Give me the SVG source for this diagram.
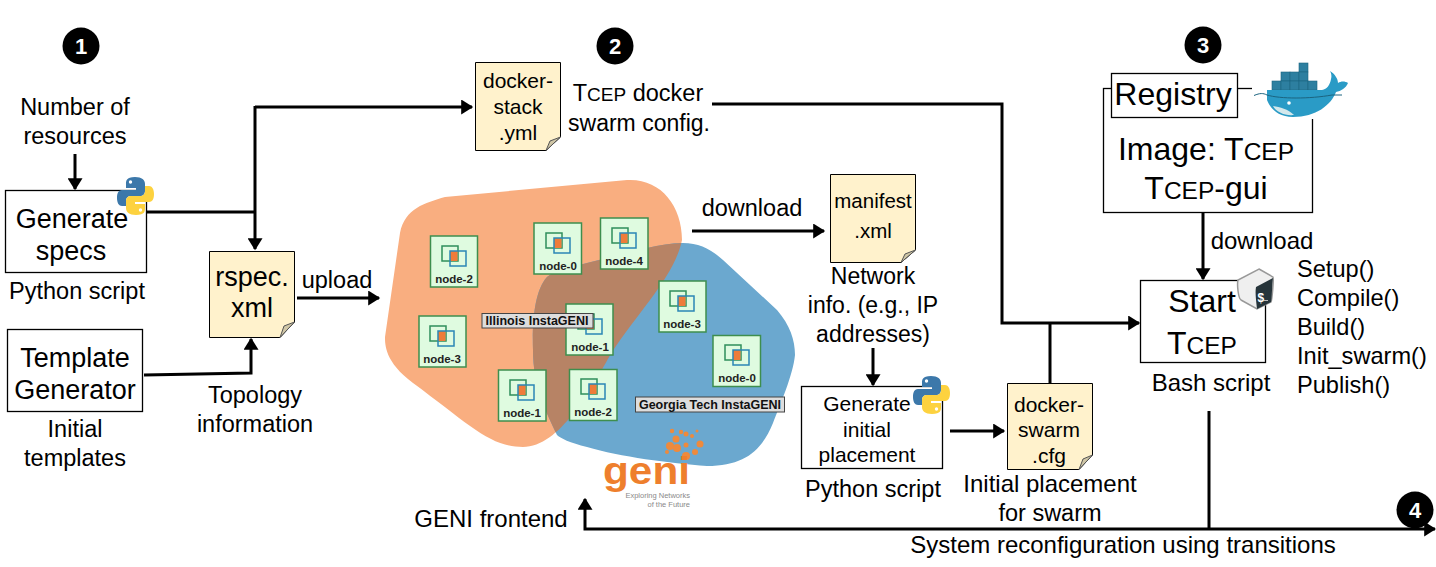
<svg xmlns="http://www.w3.org/2000/svg" width="1436" height="567" viewBox="0 0 1436 567">
<style>
text{font-family:"Liberation Sans",Arial,sans-serif;fill:#000}
.t{font-size:23.500px;text-anchor:middle}
.b{font-size:27px;text-anchor:middle}
.box{fill:#fff;stroke:#000;stroke-width:1.300}
.doc{fill:#FFF2CC;stroke:#000;stroke-width:1}
.fold{fill:#CFC6A6;stroke:#555;stroke-width:1}
.c{fill:none;stroke:#000;stroke-width:3}
.num{fill:#fff;font-size:22px;font-weight:bold;text-anchor:middle}
.nr{fill:#DFFBE0;stroke:#3E8E4E;stroke-width:1.500}
.nl{font-size:11.500px;font-weight:bold;text-anchor:middle;fill:#222}
.lab{fill:#DDD;stroke:#444;stroke-width:1}
.ll{font-size:12.500px;font-weight:bold;text-anchor:middle;fill:#111}
.dc{fill:#2D7FA0;stroke:#1B6480;stroke-width:0.600}
</style>
<defs>
<marker id="ah" markerWidth="5" markerHeight="5" refX="3.600" refY="2.500" orient="auto" markerUnits="strokeWidth"><path d="M0,0L4,2.500L0,5Z" fill="#000"/></marker>
<marker id="ahs" markerWidth="5" markerHeight="5" refX="0.400" refY="2.500" orient="auto" markerUnits="strokeWidth"><path d="M4,0L0,2.500L4,5Z" fill="#000"/></marker>
<g id="ico">
<rect x="-12" y="-12" width="16" height="15" fill="none" stroke="#2F8F5B" stroke-width="1.500"/>
<rect x="-4" y="-7" width="7.500" height="10" fill="#EE7C3A"/>
<rect x="-4" y="-7" width="16" height="15" fill="none" stroke="#2B86B5" stroke-width="1.500"/>
</g>
<g id="py">
<path d="M17,0C8,0 8,4 8,7V11H18V13H4C0,13 -1,17 -1,21C-1,26 1,29 4,29H8V24C8,21 10,19 13,19H22C25,19 27,17 27,14V7C27,3 24,0 17,0Z" fill="#3C78AA"/>
<path d="M18,38C27,38 27,34 27,31V27H17V25H31C35,25 36,21 36,17C36,12 34,9 31,9H27V14C27,17 25,19 22,19H13C10,19 8,21 8,24V31C8,35 11,38 18,38Z" fill="#FDD23F"/>
<circle cx="12.500" cy="5" r="1.700" fill="#fff"/><circle cx="22.500" cy="33" r="1.700" fill="#fff"/>
</g>
<clipPath id="oc"><path d="M400,233C405,208 425,203 445,197L627,180C660,178 682,205 682,240C675,275 640,310 612,352C590,390 560,447 523,447C490,447 470,425 413,383C385,362 385,345 385,337Z"/></clipPath>
</defs>

<g id="connectors">
<path class="c" d="M75,154V189" marker-end="url(#ah)"/>
<path class="c" d="M147,212H255"/>
<path class="c" d="M255,106V249" marker-end="url(#ah)"/>
<path class="c" d="M255,107H472" marker-end="url(#ah)"/>
<path class="c" d="M144,375L251,373V339" marker-end="url(#ah)"/>
<path class="c" d="M297,298H379" marker-end="url(#ah)"/>
<path class="c" d="M692,231H824" marker-end="url(#ah)"/>
<path class="c" d="M873,348V385" marker-end="url(#ah)"/>
<path class="c" d="M950,431H1004" marker-end="url(#ah)"/>
<path class="c" d="M1050,383V323"/>
<path class="c" d="M712,104H1002V323H1139" marker-end="url(#ah)"/>
<path class="c" d="M1203,213V279" marker-end="url(#ah)"/>
<path class="c" d="M1209,411V529"/>
<path class="c" d="M585,499V529H1435" marker-start="url(#ahs)" marker-end="url(#ah)"/>
</g>

<g id="step-1"><circle cx="81" cy="46" r="18.500" fill="#000"/><text class="num" x="81" y="54">1</text></g>
<g id="step-2"><circle cx="615" cy="46" r="18.500" fill="#000"/><text class="num" x="615" y="54">2</text></g>
<g id="step-3"><circle cx="1203" cy="45" r="18.500" fill="#000"/><text class="num" x="1203" y="53">3</text></g>
<g id="step-4"><circle cx="1415" cy="510" r="18.500" fill="#000"/><text class="num" x="1415" y="518">4</text></g>

<g id="resources-label"><text class="t" x="75" y="115">Number of</text><text class="t" x="75" y="144">resources</text></g>

<g id="generate-specs">
<rect class="box" x="5.500" y="190.500" width="141" height="82"/>
<text class="b" x="72" y="228">Generate</text><text class="b" x="71" y="260">specs</text>
<use href="#py" x="118" y="177"/>
<text class="t" x="77" y="299">Python script</text>
</g>
<g id="template-generator">
<rect class="box" x="7.500" y="329.500" width="135" height="82"/>
<text class="b" x="75" y="367">Template</text><text class="b" x="75" y="399">Generator</text>
<text class="t" x="75" y="437">Initial</text><text class="t" x="75" y="466">templates</text>
</g>
<g id="rspec">
<path class="doc" d="M209.500,251.500H294.500V322L280,337.500H209.500Z"/>
<path class="fold" d="M280,337.500L284,326L294.500,322Z"/>
<text class="b" x="252" y="286">rspec.</text><text class="b" x="252" y="317">xml</text>
<text class="t" x="337" y="288">upload</text>
<text class="t" x="255" y="403">Topology</text><text class="t" x="255" y="432">information</text>
</g>
<g id="docker-stack">
<path class="doc" d="M475.500,62.500H560.500V137L546,150.500H475.500Z"/>
<path class="fold" d="M546,150.500L550,141L560.500,137Z"/>
<text class="t" x="518" y="88" style="font-size:21px">docker-</text><text class="t" x="518" y="114" style="font-size:21px">stack</text><text class="t" x="518" y="140" style="font-size:21px">.yml</text>
<text class="t" x="638" y="101">T<tspan font-size="19">CEP</tspan> docker</text>
<text class="t" x="639" y="131" style="font-size:23px">swarm config.</text>
</g>

<g id="geni-regions">
<path d="M400,233C405,208 425,203 445,197L627,180C660,178 682,205 682,240C675,275 640,310 612,352C590,390 560,447 523,447C490,447 470,425 413,383C385,362 385,345 385,337Z" fill="#F9AE80"/>
<path d="M683,243C700,243 712,250 723,260L777,310C790,325 795,340 795,355C793,375 780,405 773,423C762,450 745,466 707,466C670,463 620,457 587,447C570,443 560,438 557,435C545,410 533,385 533,350C532,320 535,290 547,277C555,270 575,266 587,263L647,248C660,245 672,243 683,243Z" fill="#6BA8CF"/>
<path d="M683,243C700,243 712,250 723,260L777,310C790,325 795,340 795,355C793,375 780,405 773,423C762,450 745,466 707,466C670,463 620,457 587,447C570,443 560,438 557,435C545,410 533,385 533,350C532,320 535,290 547,277C555,270 575,266 587,263L647,248C660,245 672,243 683,243Z" fill="#B78365" clip-path="url(#oc)"/>
</g>
<g id="n-il-2"><rect class="nr" x="430.500" y="236" width="47" height="51"/><use href="#ico" x="454" y="258"/><text class="nl" x="454" y="283">node-2</text></g>
<g id="n-il-0"><rect class="nr" x="534" y="223" width="47.500" height="51"/><use href="#ico" x="558" y="245"/><text class="nl" x="558" y="270">node-0</text></g>
<g id="n-il-4"><rect class="nr" x="600.500" y="218" width="47.500" height="51"/><use href="#ico" x="624" y="240"/><text class="nl" x="624" y="265">node-4</text></g>
<g id="n-il-3"><rect class="nr" x="419" y="316" width="47" height="51"/><use href="#ico" x="442" y="338"/><text class="nl" x="442" y="363">node-3</text></g>
<g id="n-il-1"><rect class="nr" x="566" y="304" width="47" height="51"/><use href="#ico" x="590" y="326"/><text class="nl" x="590" y="351">node-1</text></g>
<g id="n-il-1b"><rect class="nr" x="498.500" y="370" width="47.500" height="51"/><use href="#ico" x="522" y="392"/><text class="nl" x="522" y="417">node-1</text></g>
<g id="n-gt-2"><rect class="nr" x="569.500" y="369.500" width="47.500" height="51"/><use href="#ico" x="593" y="391"/><text class="nl" x="593" y="416">node-2</text></g>
<g id="n-gt-3"><rect class="nr" x="659" y="281" width="47" height="51"/><use href="#ico" x="682" y="303"/><text class="nl" x="682" y="328">node-3</text></g>
<g id="n-gt-0"><rect class="nr" x="713" y="335.500" width="47.500" height="51"/><use href="#ico" x="737" y="357"/><text class="nl" x="737" y="382">node-0</text></g>
<g id="label-illinois"><rect class="lab" x="482" y="313.500" width="111" height="14.500"/><text class="ll" x="537" y="325">Illinois InstaGENI</text></g>
<g id="label-georgia"><rect class="lab" x="635.500" y="397" width="149" height="15"/><text class="ll" x="710" y="409">Georgia Tech InstaGENI</text></g>

<g id="geni-logo">
<g fill="#EE8A3C">
<circle cx="672" cy="431" r="2.200"/><circle cx="676" cy="439" r="3.500"/><circle cx="670" cy="446" r="4"/><circle cx="677" cy="448" r="4"/><circle cx="681" cy="432" r="2.200"/><circle cx="686" cy="434" r="2.500"/><circle cx="692" cy="436" r="2"/><circle cx="697" cy="431" r="1.500"/><circle cx="700" cy="444" r="3.500"/><circle cx="686" cy="456" r="4"/><circle cx="695" cy="452" r="3"/><circle cx="667" cy="452" r="2"/><circle cx="686" cy="445" r="2.500"/>
</g>
<text x="603" y="484" style="font-size:38px;font-weight:bold;fill:#EE7F2D" textLength="87" lengthAdjust="spacingAndGlyphs">geni</text>
<text x="690" y="498" style="font-size:7.500px;fill:#8A8A8A;text-anchor:end">Exploring Networks</text>
<text x="690" y="507" style="font-size:7.500px;fill:#8A8A8A;text-anchor:end">of the Future</text>
<text class="t" x="491" y="527" style="font-size:24px">GENI frontend</text>
</g>

<g id="manifest">
<path class="doc" d="M830.500,174.500H915.500V250L901,262.500H830.500Z"/>
<path class="fold" d="M901,262.500L905,254L915.500,250Z"/>
<text class="t" x="873" y="208" style="font-size:20.500px">manifest</text><text class="t" x="873" y="238" style="font-size:20.500px">.xml</text>
<text class="t" x="752" y="216">download</text>
<text class="t" x="873" y="284" style="font-size:23px">Network</text><text class="t" x="873" y="313" style="font-size:23px">info. (e.g., IP</text><text class="t" x="873" y="342" style="font-size:23px">addresses)</text>
</g>
<g id="generate-placement">
<rect class="box" x="801.500" y="386.500" width="141" height="82"/>
<text class="t" x="867" y="411" style="font-size:21px">Generate</text><text class="t" x="867" y="437" style="font-size:21px">initial</text><text class="t" x="867" y="462" style="font-size:21px">placement</text>
<use href="#py" x="914" y="376"/>
<text class="t" x="873" y="497">Python script</text>
</g>
<g id="docker-swarm">
<path class="doc" d="M1007.500,383.500H1092.500V455L1079,469.500H1007.500Z"/>
<path class="fold" d="M1079,469.500L1083,459L1092.500,455Z"/>
<text class="t" x="1049" y="412" style="font-size:21px">docker-</text><text class="t" x="1049" y="437" style="font-size:21px">swarm</text><text class="t" x="1049" y="463" style="font-size:21px">.cfg</text>
<text class="t" x="1050" y="492" style="font-size:24px">Initial placement</text><text class="t" x="1050" y="521">for swarm</text>
</g>

<g id="registry">
<rect class="box" x="1103.500" y="88.500" width="209" height="124"/>
<rect x="1252" y="60" width="98" height="59" fill="#fff"/>
<rect x="1111.500" y="73.500" width="126" height="44" fill="#fff" stroke="#000" stroke-width="1.300"/>
<text class="t" x="1173" y="105" style="font-size:32px">Registry</text>
<text class="t" x="1206" y="160" style="font-size:32px">Image: T<tspan font-size="24.500">CEP</tspan></text>
<text class="t" x="1206" y="199" style="font-size:32px">T<tspan font-size="24.500">CEP</tspan>-gui</text>
<g id="docker-whale">
<rect class="dc" x="1299" y="63" width="9" height="9"/>
<rect class="dc" x="1281" y="72" width="9" height="9"/><rect class="dc" x="1290" y="72" width="9" height="9"/><rect class="dc" x="1299" y="72" width="9" height="9"/>
<rect class="dc" x="1272" y="81" width="9" height="9"/><rect class="dc" x="1281" y="81" width="9" height="9"/><rect class="dc" x="1290" y="81" width="9" height="9"/><rect class="dc" x="1299" y="81" width="9" height="9"/><rect class="dc" x="1308" y="81" width="9" height="9"/>
<path d="M1267,90H1322C1327,89 1330,85 1331,79C1332,75 1331,73 1330,71C1335,74 1338,79 1338,83C1341,81 1345,81 1348,83C1346,88 1341,91 1336,92C1331,105 1316,117 1293,117C1278,117 1270,108 1267,100Z" fill="#2A9BC6"/>
<path d="M1254,95.500C1260,93 1263,93 1267,95C1280,99 1310,99 1332,95L1342,95" fill="none" stroke="#1B6480" stroke-width="1"/>
<path d="M1273,106C1280,107 1288,109 1294,115C1285,116 1276,112 1273,106Z" fill="#D3E8EC"/>
<circle cx="1289" cy="103" r="1.800" fill="#fff"/>
</g>
</g>
<g id="start-tcep">
<rect class="box" x="1140.500" y="280.500" width="125" height="82"/>
<text class="b" x="1202" y="312" style="font-size:32px">Start</text>
<text class="b" x="1202" y="354" style="font-size:32px">T<tspan font-size="24.500">CEP</tspan></text>
<path d="M1259,269L1273,277C1274,278 1272,300 1271,302L1257,309L1241,300C1238,298 1237,284 1238,280Z" fill="#EFEFEF" stroke="#999" stroke-width="1.500"/>
<path d="M1273,278C1272,284 1272,299 1271,302L1257,309C1256,300 1255,292 1256,287Z" fill="#26343A"/>
<text x="1257.500" y="302" style="font-size:12px;font-weight:bold;fill:#fff">$</text>
<rect x="1264" y="300" width="4" height="1" fill="#bbb"/>
<text class="t" x="1211" y="391" style="font-size:24px">Bash script</text>
<text class="t" x="1262" y="249" style="font-size:24px">download</text>
<g style="font-size:23.600px">
<text x="1297" y="277">Setup()</text><text x="1297" y="306">Compile()</text><text x="1297" y="335">Build()</text><text x="1297" y="364">Init_swarm()</text><text x="1297" y="393">Publish()</text>
</g>
</g>
<g id="reconfig-label"><text class="t" x="1123" y="553" style="font-size:24px">System reconfiguration using transitions</text></g>
</svg>
